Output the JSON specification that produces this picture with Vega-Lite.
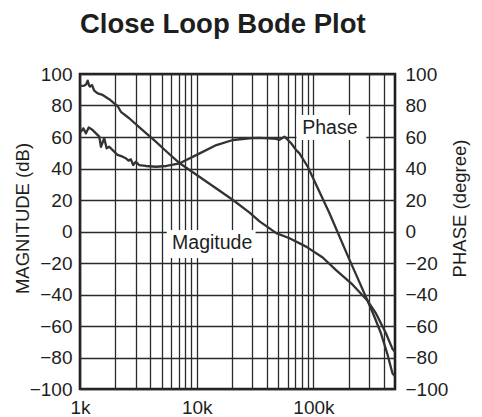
{
  "$schema": "https://vega.github.io/schema/vega-lite/v6.json",
  "width": 315,
  "height": 315,
  "autosize": {"type": "none"},
  "padding": {"left": 80, "top": 74, "right": 87, "bottom": 28},
  "background": "white",
  "config": {
    "font": "Liberation Sans",
    "view": {"stroke": "#1e1e1e", "strokeWidth": 2.6}
  },
  "title": {
    "text": "Close Loop Bode Plot",
    "fontSize": 27.5,
    "fontWeight": "bold",
    "font": "Liberation Sans",
    "color": "#1e1e1e",
    "anchor": "start",
    "frame": "group",
    "offset": 27
  },
  "datasets": {
    "curves": [
      {"series": "Magnitude", "freq": 1000, "value": 92.4},
      {"series": "Magnitude", "freq": 1040, "value": 92.4},
      {"series": "Magnitude", "freq": 1088, "value": 92.6},
      {"series": "Magnitude", "freq": 1130, "value": 93.5},
      {"series": "Magnitude", "freq": 1164, "value": 95.8},
      {"series": "Magnitude", "freq": 1200, "value": 92.5},
      {"series": "Magnitude", "freq": 1218, "value": 92},
      {"series": "Magnitude", "freq": 1266, "value": 93},
      {"series": "Magnitude", "freq": 1325, "value": 89.4},
      {"series": "Magnitude", "freq": 1417, "value": 87.7},
      {"series": "Magnitude", "freq": 1563, "value": 86.7},
      {"series": "Magnitude", "freq": 1780, "value": 84},
      {"series": "Magnitude", "freq": 1964, "value": 81.4},
      {"series": "Magnitude", "freq": 2100, "value": 79.7},
      {"series": "Magnitude", "freq": 2241, "value": 76},
      {"series": "Magnitude", "freq": 2639, "value": 71.9},
      {"series": "Magnitude", "freq": 3435, "value": 64.4},
      {"series": "Magnitude", "freq": 4463, "value": 57},
      {"series": "Magnitude", "freq": 5508, "value": 50.8},
      {"series": "Magnitude", "freq": 7156, "value": 43.3},
      {"series": "Magnitude", "freq": 10607, "value": 34.6},
      {"series": "Magnitude", "freq": 14740, "value": 27.3},
      {"series": "Magnitude", "freq": 20430, "value": 20},
      {"series": "Magnitude", "freq": 28380, "value": 12},
      {"series": "Magnitude", "freq": 34550, "value": 6.4},
      {"series": "Magnitude", "freq": 42070, "value": 2},
      {"series": "Magnitude", "freq": 48000, "value": -1},
      {"series": "Magnitude", "freq": 62370, "value": -4.3},
      {"series": "Magnitude", "freq": 86600, "value": -9.6},
      {"series": "Magnitude", "freq": 120100, "value": -16.5},
      {"series": "Magnitude", "freq": 156300, "value": -24.5},
      {"series": "Magnitude", "freq": 216700, "value": -33.8},
      {"series": "Magnitude", "freq": 291200, "value": -44},
      {"series": "Magnitude", "freq": 343600, "value": -52},
      {"series": "Magnitude", "freq": 418200, "value": -64.6},
      {"series": "Magnitude", "freq": 475400, "value": -74.5},
      {"series": "Magnitude", "freq": 500000, "value": -76.5},
      {"series": "Phase", "freq": 1000, "value": 63},
      {"series": "Phase", "freq": 1020, "value": 63.4},
      {"series": "Phase", "freq": 1067, "value": 65.5},
      {"series": "Phase", "freq": 1125, "value": 62.3},
      {"series": "Phase", "freq": 1187, "value": 66},
      {"series": "Phase", "freq": 1284, "value": 64.4},
      {"series": "Phase", "freq": 1370, "value": 62.3},
      {"series": "Phase", "freq": 1462, "value": 60.2},
      {"series": "Phase", "freq": 1512, "value": 53.8},
      {"series": "Phase", "freq": 1613, "value": 59.2},
      {"series": "Phase", "freq": 1691, "value": 52.8},
      {"series": "Phase", "freq": 1780, "value": 53.8},
      {"series": "Phase", "freq": 1964, "value": 50.7},
      {"series": "Phase", "freq": 2100, "value": 48.6},
      {"series": "Phase", "freq": 2317, "value": 47.5},
      {"series": "Phase", "freq": 2473, "value": 46.5},
      {"series": "Phase", "freq": 2608, "value": 45},
      {"series": "Phase", "freq": 2729, "value": 45.8},
      {"series": "Phase", "freq": 2855, "value": 42.2},
      {"series": "Phase", "freq": 3010, "value": 44.3},
      {"series": "Phase", "freq": 3212, "value": 42.2},
      {"series": "Phase", "freq": 3666, "value": 41.6},
      {"series": "Phase", "freq": 4463, "value": 41.1},
      {"series": "Phase", "freq": 5508, "value": 41.6},
      {"series": "Phase", "freq": 7156, "value": 43.3},
      {"series": "Phase", "freq": 10607, "value": 49.6},
      {"series": "Phase", "freq": 14740, "value": 54.9},
      {"series": "Phase", "freq": 20430, "value": 58.1},
      {"series": "Phase", "freq": 28380, "value": 59.2},
      {"series": "Phase", "freq": 34550, "value": 59.4},
      {"series": "Phase", "freq": 48000, "value": 58.8},
      {"series": "Phase", "freq": 51200, "value": 58.2},
      {"series": "Phase", "freq": 56500, "value": 60.2},
      {"series": "Phase", "freq": 64480, "value": 56},
      {"series": "Phase", "freq": 71140, "value": 51.7},
      {"series": "Phase", "freq": 75920, "value": 49.6},
      {"series": "Phase", "freq": 89400, "value": 41.1},
      {"series": "Phase", "freq": 137000, "value": 11.7},
      {"series": "Phase", "freq": 196500, "value": -15.3},
      {"series": "Phase", "freq": 247200, "value": -32},
      {"series": "Phase", "freq": 291200, "value": -44},
      {"series": "Phase", "freq": 332200, "value": -54},
      {"series": "Phase", "freq": 378900, "value": -64.6},
      {"series": "Phase", "freq": 429100, "value": -77.5},
      {"series": "Phase", "freq": 475400, "value": -90},
      {"series": "Phase", "freq": 500000, "value": -92}
    ],
    "labels": [
      {"label": "Magitude", "freq": 13570, "value": -11.3},
      {"label": "Phase", "freq": 138400, "value": 61.6}
    ],
    "boxes": [
      {"freq": 5541, "freq2": 31940, "v1": 0.95, "v2": -16.8},
      {"freq": 71570, "freq2": 283800, "v1": 74.0, "v2": 58.1}
    ]
  },
  "encoding": {
    "x": {
      "field": "freq",
      "type": "quantitative",
      "scale": {"type": "log", "domain": [1000, 500000], "nice": false},
      "axis": {
        "title": null,
        "values": [1000, 2000, 3000, 4000, 5000, 6000, 7000, 8000, 9000, 10000, 20000, 30000, 40000, 50000, 60000, 70000, 80000, 90000, 100000, 200000, 300000, 400000],
        "labelExpr": "datum.value == 1000 ? '1k' : datum.value == 10000 ? '10k' : datum.value == 100000 ? '100k' : ''",
        "grid": true,
        "gridColor": "#2a2a2a",
        "gridWidth": 1.3,
        "ticks": false,
        "domain": false,
        "labelFontSize": 19,
        "labelColor": "#1e1e1e",
        "labelPadding": 9,
        "labelFlush": false,
        "labelOverlap": false,
        "labelBound": false
      }
    }
  },
  "layer": [
    {
      "data": {"name": "boxes"},
      "mark": {"type": "rect", "fill": "white", "strokeWidth": 0},
      "encoding": {
        "x2": {"field": "freq2"},
        "y": {
          "field": "v1",
          "type": "quantitative",
          "scale": {"domain": [-100, 100], "nice": false},
          "axis": {
            "orient": "right",
            "values": [-100, -80, -60, -40, -20, 0, 20, 40, 60, 80, 100],
            "grid": false,
            "ticks": false,
            "domain": false,
            "labelFontSize": 19,
            "labelColor": "#1e1e1e",
            "labelPadding": 10,
            "labelFlush": false,
            "labelOverlap": false,
            "labelBound": false,
            "title": "PHASE (degree)",
            "titleFontSize": 18.5,
            "titleFontWeight": "normal",
            "titleColor": "#1e1e1e",
            "titleAngle": 270,
            "titleAlign": "center",
            "titleBaseline": "alphabetic",
            "titleX": 70,
            "titleY": 134
          }
        },
        "y2": {"field": "v2"}
      }
    },
    {
      "data": {"name": "labels"},
      "mark": {"type": "text", "fontSize": 19.5, "color": "#1e1e1e", "align": "center", "baseline": "alphabetic"},
      "encoding": {
        "y": {"field": "value", "type": "quantitative", "scale": {"domain": [-100, 100], "nice": false}, "axis": null},
        "text": {"field": "label"}
      }
    },
    {
      "data": {"name": "curves"},
      "mark": {"type": "line", "color": "#333333", "strokeWidth": 2.3, "strokeJoin": "round"},
      "encoding": {
        "y": {
          "field": "value",
          "type": "quantitative",
          "scale": {"domain": [-100, 100], "nice": false},
          "axis": {
            "orient": "left",
            "values": [-100, -80, -60, -40, -20, 0, 20, 40, 60, 80, 100],
            "grid": true,
            "gridColor": "#2a2a2a",
            "gridWidth": 1.3,
            "ticks": false,
            "domain": false,
            "labelFontSize": 19,
            "labelColor": "#1e1e1e",
            "labelPadding": 8,
            "labelFlush": false,
            "labelOverlap": false,
            "labelBound": false,
            "title": "MAGNITUDE (dB)",
            "titleFontSize": 18.5,
            "titleFontWeight": "normal",
            "titleColor": "#1e1e1e",
            "titleAngle": 270,
            "titleAlign": "center",
            "titleBaseline": "alphabetic",
            "titleX": -52,
            "titleY": 144
          }
        },
        "detail": {"field": "series"}
      }
    }
  ],
  "resolve": {"axis": {"y": "independent"}}
}
